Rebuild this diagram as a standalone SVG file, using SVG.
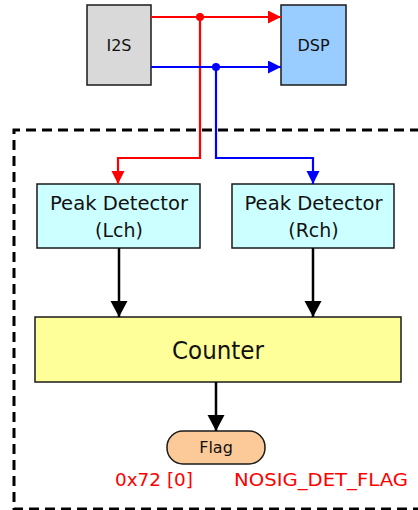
<svg xmlns="http://www.w3.org/2000/svg" width="418" height="510" viewBox="0 0 418 510">
<style>
.box{stroke:#1a1a1a;stroke-width:1.5}
.t{font-family:"DejaVu Sans","Liberation Sans",sans-serif;fill:#111;text-anchor:middle}
.red{stroke:#ff0000;stroke-width:2.2;fill:none}
.blue{stroke:#0000ff;stroke-width:2.2;fill:none}
.blk{stroke:#000;stroke-width:2.5;fill:none}
.lbl{font-family:"DejaVu Sans","Liberation Sans",sans-serif;fill:#ff0000;font-size:18.5px}
</style>
<defs>
<marker id="ar" markerUnits="userSpaceOnUse" markerWidth="14" markerHeight="14" refX="13" refY="6.5" orient="auto"><path d="M0,0 L13,6.5 L0,13 Z" fill="#ff0000"/></marker>
<marker id="ab" markerUnits="userSpaceOnUse" markerWidth="14" markerHeight="14" refX="13" refY="6.5" orient="auto"><path d="M0,0 L13,6.5 L0,13 Z" fill="#0000ff"/></marker>
<marker id="ak" markerUnits="userSpaceOnUse" markerWidth="18" markerHeight="18" refX="16" refY="8.5" orient="auto"><path d="M0,0 L16,8.5 L0,17 Z" fill="#000"/></marker>
</defs>
<g id="boundary"><path d="M420,130 H14 V509 H420" fill="none" stroke="#000" stroke-width="3" stroke-dasharray="10 6"/></g>
<g id="i2s"><rect class="box" x="87" y="5" width="64" height="80" fill="#d9d9d9"/><text class="t" x="119" y="51" font-size="16">I2S</text></g>
<g id="dsp"><rect class="box" x="281" y="5" width="65" height="80" fill="#99ccff"/><text class="t" x="313.5" y="51" font-size="16">DSP</text></g>
<g id="peakL"><rect class="box" x="37" y="184" width="163" height="64" fill="#ccffff"/><text class="t" x="119" y="210" font-size="19" textLength="138" lengthAdjust="spacingAndGlyphs">Peak Detector</text><text class="t" x="119" y="237" font-size="19">(Lch)</text></g>
<g id="peakR"><rect class="box" x="232" y="184" width="162" height="64" fill="#ccffff"/><text class="t" x="313.5" y="210" font-size="19" textLength="138" lengthAdjust="spacingAndGlyphs">Peak Detector</text><text class="t" x="313.5" y="237" font-size="19">(Rch)</text></g>
<g id="counter"><rect class="box" x="35" y="317" width="366" height="65" fill="#ffff99"/><text class="t" x="218" y="359" font-size="24" textLength="92" lengthAdjust="spacingAndGlyphs">Counter</text></g>
<g id="flag"><rect class="box" x="167" y="431" width="98" height="33" rx="16" fill="#fbca98"/><text class="t" x="216" y="453" font-size="16">Flag</text></g>
<g id="connectors">
<path class="red" d="M151,17 H281" marker-end="url(#ar)"/>
<path class="red" d="M200,17 V158 H118 V184" marker-end="url(#ar)"/>
<circle cx="200" cy="17" r="4" fill="#ff0000"/>
<path class="blue" d="M151,67 H281" marker-end="url(#ab)"/>
<path class="blue" d="M216,67 V158 H313 V184" marker-end="url(#ab)"/>
<circle cx="216" cy="67" r="4" fill="#0000ff"/>
<path class="blk" d="M119,248 V317" marker-end="url(#ak)"/>
<path class="blk" d="M313,248 V317" marker-end="url(#ak)"/>
<path class="blk" d="M216,382 V431" marker-end="url(#ak)"/>
</g>
<g id="labels">
<text class="lbl" x="115" y="486" textLength="78" lengthAdjust="spacingAndGlyphs">0x72 [0]</text>
<text class="lbl" x="234" y="486" textLength="174" lengthAdjust="spacingAndGlyphs">NOSIG_DET_FLAG</text>
</g>
</svg>
